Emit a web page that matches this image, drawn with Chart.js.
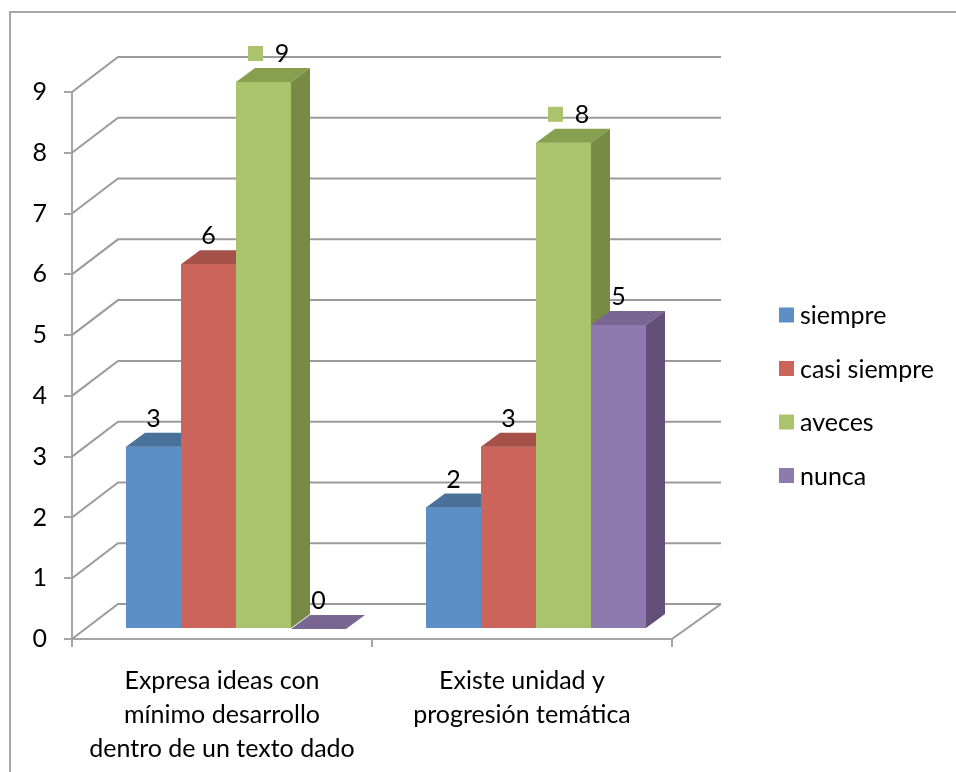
<!DOCTYPE html>
<html>
<head>
<meta charset="utf-8">
<script src="https://cdn.jsdelivr.net/npm/chart.js@4.4.1/dist/chart.umd.min.js"></script>
<style>
  html, body { margin: 0; padding: 0; background: #fff; }
  #caja { width: 956px; height: 772px; position: relative; }
</style>
</head>
<body>
<div id="caja"><canvas id="grafico" width="956" height="772"></canvas></div>
<script>
// datos
const categorias = [
  ['Expresa ideas con', 'mínimo desarrollo', 'dentro de un texto dado'],
  ['Existe unidad y', 'progresión temática']
];
const series = ['siempre', 'casi siempre', 'aveces', 'nunca'];
const siempre = [3, 2];
const casiSiempre = [6, 3];
const aveces = [9, 8];
const nunca = [0, 5];
const ejeY = { min: 0, max: 9, paso: 1 };

// colores: frente, tapa, costado
const frente = ['#5b8fc5', '#cb655b', '#aac36c', '#8f7ab0'];
const tapa = ['#4a7199', '#a5514a', '#87a050', '#796591'];
const costado = ['#44668f', '#9a4a43', '#778a46', '#644f79'];
const conClave = [false, false, true, false]; // etiqueta con cuadrito de leyenda

const FUENTE = 'Lato, "Open Sans", sans-serif';
const TAM = 25;
const gris = '#9b9b9b';

// profundidad de las paredes, plano de las barras y grosor de cada barra
const DX = 46, DY = -35;
const BX = 14, BY = -10;
const PX = 19, PY = -14;

function poligono(ctx, pts, color) {
  ctx.beginPath();
  ctx.moveTo(pts[0][0], pts[0][1]);
  for (let k = 1; k < pts.length; k++) ctx.lineTo(pts[k][0], pts[k][1]);
  ctx.closePath();
  ctx.fillStyle = color;
  ctx.fill();
}

const tresD = {
  id: 'tresD',
  beforeDraw(chart) {
    const ctx = chart.ctx;
    ctx.save();
    ctx.fillStyle = '#fff';
    ctx.fillRect(0, 0, chart.width, chart.height);
    ctx.strokeStyle = '#a6a6a6';
    ctx.lineWidth = 2;
    ctx.beginPath();
    ctx.moveTo(10, chart.height);
    ctx.lineTo(10, 12);
    ctx.lineTo(chart.width, 12);
    ctx.stroke();
    ctx.restore();
  },
  beforeDatasetsDraw(chart) {
    const { ctx, chartArea: a, scales: { y } } = chart;
    ctx.save();
    ctx.strokeStyle = gris;
    ctx.lineWidth = 2;
    y.ticks.forEach(t => {
      const py = y.getPixelForValue(t.value);
      ctx.beginPath();
      ctx.moveTo(a.left, py);
      ctx.lineTo(a.left + DX, py + DY);
      ctx.lineTo(a.right + DX + 3, py + DY);
      ctx.stroke();
    });
    ctx.beginPath();
    ctx.moveTo(a.right, a.bottom);
    ctx.lineTo(a.right + DX + 3, a.bottom + DY);
    ctx.stroke();
    ctx.restore();
    // las barras se dibujan en el plano medio
    ctx.save();
    ctx.translate(BX, BY);
  },
  afterDatasetsDraw(chart) {
    const ctx = chart.ctx;
    const n = chart.data.labels.length;
    for (let i = 0; i < n; i++) {
      chart.data.datasets.forEach((ds, d) => {
        const b = chart.getDatasetMeta(d).data[i];
        const x0 = b.x - b.width / 2, x1 = b.x + b.width / 2;
        const yt = b.y, yb = b.base;
        poligono(ctx, [[x0, yt], [x1, yt], [x1, yb], [x0, yb]], frente[d]);
        poligono(ctx, [[x0, yt], [x1, yt], [x1 + PX, yt + PY], [x0 + PX, yt + PY]], tapa[d]);
        poligono(ctx, [[x1, yt], [x1 + PX, yt + PY], [x1 + PX, yb + PY], [x1, yb]], costado[d]);
      });
    }
    // etiquetas de datos
    ctx.font = TAM + 'px ' + FUENTE;
    ctx.textBaseline = 'middle';
    ctx.textAlign = 'center';
    chart.data.datasets.forEach((ds, d) => {
      chart.getDatasetMeta(d).data.forEach((b, i) => {
        const ty = b.y - 28;
        if (conClave[d]) {
          ctx.fillStyle = frente[d];
          ctx.fillRect(b.x - 15.5, ty - 8, 15, 15);
          ctx.fillStyle = '#000';
          ctx.fillText(String(ds.data[i]), b.x + 18.5, ty);
        } else {
          ctx.fillStyle = '#000';
          ctx.fillText(String(ds.data[i]), b.x, ty);
        }
      });
    });
    ctx.restore();
  },
  afterDraw(chart) {
    // leyenda
    const ctx = chart.ctx;
    ctx.save();
    ctx.font = TAM + 'px ' + FUENTE;
    ctx.textBaseline = 'middle';
    ctx.textAlign = 'left';
    chart.data.datasets.forEach((ds, d) => {
      const cy = 315 + d * 53.5;
      ctx.fillStyle = frente[d];
      ctx.fillRect(779, cy - 7.5, 15, 15);
      ctx.fillStyle = '#000';
      ctx.fillText(ds.label, 800, cy + 1);
    });
    ctx.restore();
  }
};

const valores = [siempre, casiSiempre, aveces, nunca];

new Chart(document.getElementById('grafico').getContext('2d'), {
  type: 'bar',
  data: {
    labels: categorias,
    datasets: series.map((s, d) => ({
      label: s,
      data: valores[d],
      backgroundColor: frente[d],
      borderWidth: 0
    }))
  },
  options: {
    responsive: false,
    animation: false,
    events: [],
    layout: { padding: { left: 0, top: 92, right: 284, bottom: 0 } },
    datasets: { bar: { categoryPercentage: 0.7333, barPercentage: 1 } },
    plugins: {
      legend: { display: false },
      tooltip: { enabled: false }
    },
    scales: {
      x: {
        grid: { display: true, offset: true, drawOnChartArea: false, tickLength: 8, color: '#a6a6a6', lineWidth: 2 },
        border: { display: true, color: '#a6a6a6', width: 2 },
        ticks: {
          color: '#000',
          padding: 17,
          maxRotation: 0,
          autoSkip: false,
          font: { family: FUENTE, size: TAM, lineHeight: 34 / TAM }
        },
        afterFit(s) { s.height = 133; }
      },
      y: {
        min: ejeY.min,
        max: ejeY.max,
        grid: { display: true, drawOnChartArea: false, tickLength: 8, color: '#a6a6a6', lineWidth: 2 },
        border: { display: true, color: '#a6a6a6', width: 2 },
        ticks: {
          stepSize: ejeY.paso,
          color: '#000',
          padding: 17,
          font: { family: FUENTE, size: TAM }
        },
        afterFit(s) { s.width = 72; }
      }
    }
  },
  plugins: [tresD]
});
</script>
</body>
</html>
